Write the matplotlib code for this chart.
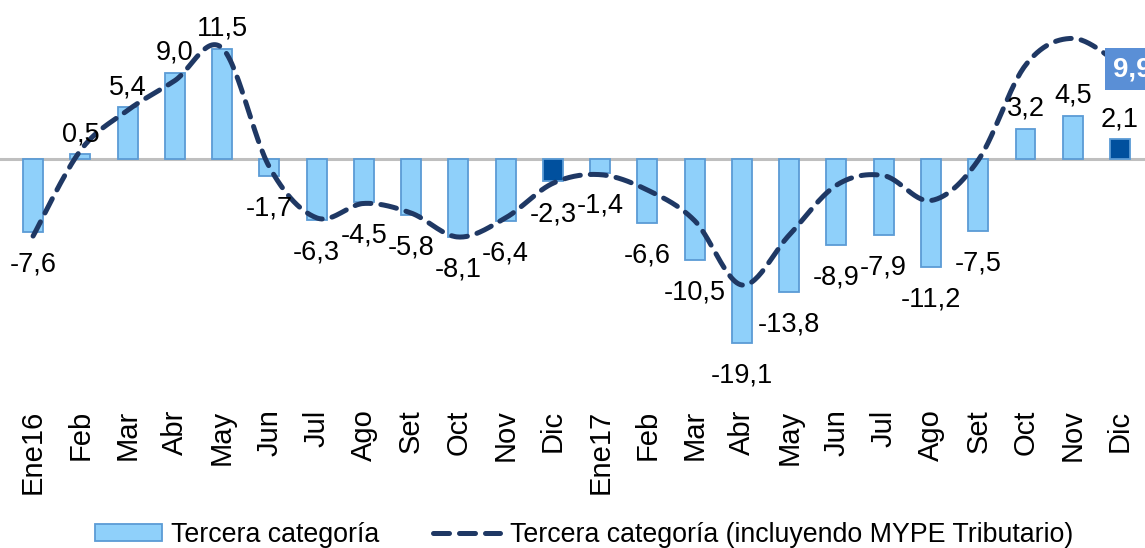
import numpy as np
import matplotlib
matplotlib.use("Agg")
import matplotlib.pyplot as plt
from matplotlib.patches import Patch
from matplotlib.lines import Line2D

plt.rcParams['font.family'] = ['Liberation Sans', 'DejaVu Sans']

meses = ['Ene16', 'Feb', 'Mar', 'Abr', 'May', 'Jun', 'Jul', 'Ago', 'Set', 'Oct', 'Nov', 'Dic',
         'Ene17', 'Feb', 'Mar', 'Abr', 'May', 'Jun', 'Jul', 'Ago', 'Set', 'Oct', 'Nov', 'Dic']
tercera = [-7.6, 0.5, 5.4, 9.0, 11.5, -1.7, -6.3, -4.5, -5.8, -8.1, -6.4, -2.3,
           -1.4, -6.6, -10.5, -19.1, -13.8, -8.9, -7.9, -11.2, -7.5, 3.2, 4.5, 2.1]
con_mype = [-8.0, 0.9, 5.1, 8.2, 11.6, -0.8, -6.1, -4.6, -5.6, -8.1, -6.1, -2.5,
            -1.6, -3.2, -6.4, -13.1, -7.9, -2.7, -1.7, -4.3, -0.1, 9.8, 12.6, 9.9]

light = '#8FD0FA'
dark = '#00509E'
edge = '#5B9BD5'
navy = '#1F3864'

x = np.arange(len(meses))

fig = plt.figure(figsize=(11.45, 5.48), dpi=100)
ax = fig.add_axes([0, 0.288, 1, 0.712])

colors = [dark if m == 'Dic' else light for m in meses]
ax.bar(x, tercera, width=0.42, color=colors, edgecolor=edge, linewidth=1.3, zorder=2)
ax.axhline(0, color='#BFBFBF', lw=2.2, zorder=1)


# Excel-like smoothed line (Catmull-Rom bezier between the points)
def smooth(xs, ys, n=30):
    pts = np.column_stack([xs, ys]).astype(float)
    p = np.vstack([pts[0], pts, pts[-1]])
    out = []
    for i in range(1, len(p) - 2):
        p0, p1, p2, p3 = p[i - 1], p[i], p[i + 1], p[i + 2]
        c1 = p1 + (p2 - p0) / 6
        c2 = p2 - (p3 - p1) / 6
        t = np.linspace(0, 1, n)[:, None]
        seg = ((1 - t) ** 3) * p1 + 3 * ((1 - t) ** 2) * t * c1 + 3 * (1 - t) * t ** 2 * c2 + t ** 3 * p2
        out.append(seg if i == 1 else seg[1:])
    out = np.vstack(out)
    return out[:, 0], out[:, 1]


sx, sy = smooth(x, con_mype)
ax.plot(sx, sy, color=navy, lw=3.6, dashes=(3.2, 2.0), dash_capstyle='round', zorder=3)

for xi, v in zip(x, tercera):
    lab = f'{v:.1f}'.replace('.', ',')
    if v >= 0:
        ax.annotate(lab, (xi, v), xytext=(0, 14.5), textcoords='offset points',
                    ha='center', va='center', fontsize=19.5, zorder=4)
    else:
        ax.annotate(lab, (xi, v), xytext=(0, -23.5), textcoords='offset points',
                    ha='center', va='center', fontsize=19.5, zorder=4)

ax.annotate('9,9', (x[-1], con_mype[-1]), xytext=(9, -3.5), textcoords='offset points',
            ha='center', va='center', fontsize=20, fontweight='bold', color='white',
            bbox=dict(boxstyle='square,pad=0.3', fc='#5A8FD6', ec='none'), zorder=5)

ax.set_xlim(-0.7, 23.53)
ax.set_ylim(-24.06, 16.6)
ax.set_xticks(x)
ax.set_xticklabels(meses, rotation=90, fontsize=21)
ax.tick_params(axis='x', length=0, pad=14)
ax.set_yticks([])
for s in ax.spines.values():
    s.set_visible(False)

handles = [Patch(facecolor=light, edgecolor=edge, linewidth=1.3),
           Line2D([0], [0], color=navy, lw=3.6, dashes=(3.2, 2.0), dash_capstyle='round')]
fig.legend(handles, ['Tercera categoría', 'Tercera categoría (incluyendo MYPE Tributario)'],
           loc='center', bbox_to_anchor=(0.51, 13 / 548), ncol=2, frameon=False,
           fontsize=19.3, handlelength=2.5, handleheight=0.55, handletextpad=0.35,
           columnspacing=2.0, borderpad=0)

fig.savefig('out.png', dpi=100)
